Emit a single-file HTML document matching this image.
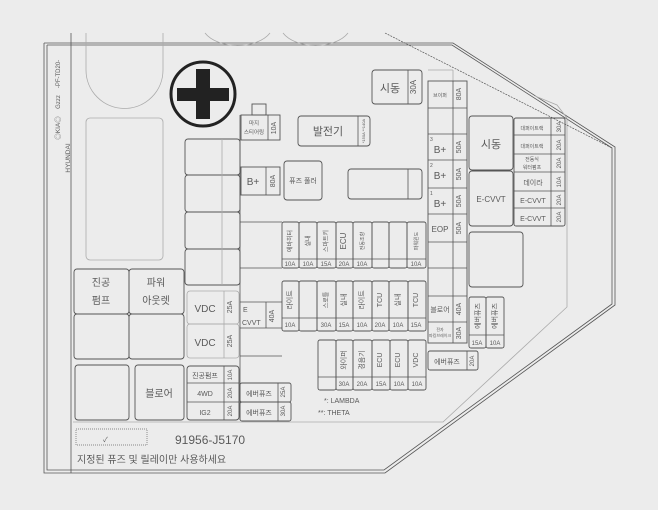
<!DOCTYPE html>
<html><head><meta charset="utf-8"><style>
html,body{margin:0;padding:0;background:#ececec;}
svg{display:block;}
text{font-family:"Liberation Sans","Noto Sans CJK KR",sans-serif;fill:#5a5a5a;}
.r{fill:none;stroke:#555;stroke-width:0.9;}
.l{fill:none;stroke:#555;stroke-width:0.8;}
.g{fill:none;stroke:#aaa;stroke-width:0.8;}
</style></head><body>
<svg width="658" height="510" viewBox="0 0 658 510" xmlns="http://www.w3.org/2000/svg">
<rect width="658" height="510" fill="#ececec"/>
<polyline class="l" points="44,43 453,43 615,147 615,305 385,473 44,473 44,43"/>
<polyline class="l" points="47,45 452,45 612,148 612,304 384,470 47,470 47,45"/>
<line class="l" x1="71" y1="33" x2="71" y2="473"/>
<polyline class="g" points="535,96 557,105 567,118 567,307 443,422 73,422"/>
<line x1="385" y1="33" x2="612" y2="148" stroke="#555" stroke-width="0.7" stroke-dasharray="2,1"/>
<path class="g" d="M86,33 V70 A38.5,38.5 0 0 0 163,70 V33"/>
<path class="g" d="M205,33 A36,22 0 0 0 270,33"/>
<path class="g" d="M283,33 A36,22 0 0 0 348,33"/>
<circle cx="203" cy="94" r="32" fill="none" stroke="#222" stroke-width="3"/>
<rect x="196" y="69" width="14" height="50" fill="#222"/>
<rect x="177" y="88" width="52" height="13" fill="#222"/>
<text transform="translate(70,158) rotate(-90)" font-size="6.5" text-anchor="middle">HYUNDAI</text>
<text transform="translate(60,128) rotate(-90)" font-size="6.5" text-anchor="middle">◎KIA◎</text>
<text transform="translate(60,102) rotate(-90)" font-size="6" text-anchor="middle">Gzzz</text>
<text transform="translate(60,74) rotate(-90)" font-size="6" text-anchor="middle">-PF-TD20-</text>
<rect class="g" x="86" y="118" width="77" height="142" rx="4"/>
<rect class="r" x="185" y="139" width="55" height="36" rx="3"/>
<rect class="r" x="185" y="175" width="55" height="37" rx="3"/>
<rect class="r" x="185" y="212" width="55" height="37" rx="3"/>
<rect class="r" x="185" y="249" width="55" height="36" rx="3"/>
<line class="g" x1="222" y1="139" x2="222" y2="285"/>
<line class="l" x1="240" y1="115" x2="240" y2="420"/>
<rect class="r" x="252" y="104" width="14" height="11"/>
<rect class="r" x="241" y="115" width="39" height="25"/>
<line class="l" x1="268" y1="115" x2="268" y2="140"/>
<text x="254" y="125" font-size="5.5" text-anchor="middle">마지</text>
<text x="254" y="134" font-size="5.5" text-anchor="middle">스티어링</text>
<text transform="translate(276,128) rotate(-90)" font-size="7" text-anchor="middle">10A</text>
<rect class="r" x="298" y="116" width="72" height="30" rx="3"/>
<line class="l" x1="358" y1="116" x2="358" y2="146"/>
<text x="328" y="135" font-size="11" text-anchor="middle">발전기</text>
<text transform="translate(365,131) rotate(-90)" font-size="4" text-anchor="middle">*150A **140A</text>
<rect class="r" x="241" y="167" width="39" height="28"/>
<line class="l" x1="266" y1="167" x2="266" y2="195"/>
<text x="253" y="185" font-size="10" text-anchor="middle">B+</text>
<text transform="translate(275,181) rotate(-90)" font-size="7" text-anchor="middle">80A</text>
<rect class="r" x="284" y="161" width="38" height="39" rx="3"/>
<text x="303" y="183" font-size="7" text-anchor="middle">퓨즈 풀러</text>
<rect class="r" x="348" y="169" width="74" height="30" rx="3"/>
<line class="l" x1="408" y1="169" x2="408" y2="199"/>
<rect class="r" x="372" y="70" width="50" height="34" rx="3"/>
<line class="l" x1="408" y1="70" x2="408" y2="104"/>
<text x="390" y="92" font-size="11" text-anchor="middle">시동</text>
<text transform="translate(416,87) rotate(-90)" font-size="8" text-anchor="middle">30A</text>
<line class="g" x1="428" y1="70" x2="453" y2="70"/><line class="g" x1="453" y1="70" x2="453" y2="81"/>
<rect class="r" x="428" y="81" width="39" height="262"/>
<line class="l" x1="453" y1="81" x2="453" y2="343"/>
<g class="l">
<line x1="428" y1="108" x2="467" y2="108"/><line x1="428" y1="134" x2="467" y2="134"/>
<line x1="428" y1="160" x2="467" y2="160"/><line x1="428" y1="188" x2="467" y2="188"/>
<line x1="428" y1="214" x2="467" y2="214"/><line x1="428" y1="242" x2="467" y2="242"/>
<line x1="428" y1="268" x2="467" y2="268"/><line x1="428" y1="296" x2="467" y2="296"/>
<line x1="428" y1="322" x2="467" y2="322"/>
</g>
<text x="440" y="97" font-size="5" text-anchor="middle">브이퍼</text>
<text transform="translate(461,94) rotate(-90)" font-size="7" text-anchor="middle">80A</text>
<text x="440" y="153" font-size="10" text-anchor="middle">B+</text><text x="430" y="141" font-size="5">3</text>
<text transform="translate(461,147) rotate(-90)" font-size="7" text-anchor="middle">50A</text>
<text x="440" y="179" font-size="10" text-anchor="middle">B+</text><text x="430" y="167" font-size="5">2</text>
<text transform="translate(461,174) rotate(-90)" font-size="7" text-anchor="middle">50A</text>
<text x="440" y="207" font-size="10" text-anchor="middle">B+</text><text x="430" y="195" font-size="5">1</text>
<text transform="translate(461,201) rotate(-90)" font-size="7" text-anchor="middle">50A</text>
<text x="440" y="232" font-size="8" text-anchor="middle">EOP</text>
<text transform="translate(461,228) rotate(-90)" font-size="7" text-anchor="middle">50A</text>
<text x="440" y="312" font-size="7" text-anchor="middle">블로어</text>
<text transform="translate(461,309) rotate(-90)" font-size="7" text-anchor="middle">40A</text>
<text x="440" y="331" font-size="4" text-anchor="middle">전자</text>
<text x="440" y="337" font-size="4" text-anchor="middle">파킹브레이크</text>
<text transform="translate(461,333) rotate(-90)" font-size="7" text-anchor="middle">30A</text>
<rect class="r" x="469" y="116" width="44" height="54" rx="3"/>
<text x="491" y="148" font-size="11" text-anchor="middle">시동</text>
<rect class="r" x="469" y="171" width="44" height="55" rx="3"/>
<text x="491" y="202" font-size="8" text-anchor="middle">E-CVVT</text>
<rect class="r" x="469" y="232" width="54" height="55" rx="3"/>
<rect class="r" x="514" y="118" width="51" height="108" rx="2"/>
<line class="l" x1="551" y1="118" x2="551" y2="226"/>
<g class="l"><line x1="514" y1="135" x2="565" y2="135"/><line x1="514" y1="154" x2="565" y2="154"/><line x1="514" y1="172" x2="565" y2="172"/><line x1="514" y1="191" x2="565" y2="191"/><line x1="514" y1="208" x2="565" y2="208"/></g>
<text x="532" y="130" font-size="5" text-anchor="middle">대퍼이트랙</text>
<text x="532" y="148" font-size="5" text-anchor="middle">대퍼이트랙</text>
<text x="532" y="161" font-size="5" text-anchor="middle">전동식</text>
<text x="532" y="169" font-size="5" text-anchor="middle">워터펌프</text>
<text x="533" y="185" font-size="7" text-anchor="middle">데이라</text>
<text x="533" y="203" font-size="7" text-anchor="middle">E-CVVT</text>
<text x="533" y="221" font-size="7" text-anchor="middle">E-CVVT</text>
<text transform="translate(561,127) rotate(-90)" font-size="6" text-anchor="middle">30A</text>
<text transform="translate(561,145) rotate(-90)" font-size="6" text-anchor="middle">20A</text>
<text transform="translate(561,163) rotate(-90)" font-size="6" text-anchor="middle">20A</text>
<text transform="translate(561,182) rotate(-90)" font-size="6" text-anchor="middle">10A</text>
<text transform="translate(561,200) rotate(-90)" font-size="6" text-anchor="middle">20A</text>
<text transform="translate(561,217) rotate(-90)" font-size="6" text-anchor="middle">20A</text>
<rect class="r" x="469" y="297" width="17" height="51" rx="2"/>
<rect class="r" x="486" y="297" width="18" height="51" rx="2"/>
<line class="l" x1="469" y1="335" x2="504" y2="335"/>
<text transform="translate(480,316) rotate(-90)" font-size="7" text-anchor="middle">에버퓨즈</text>
<text transform="translate(497,316) rotate(-90)" font-size="7" text-anchor="middle">에버퓨즈</text>
<text x="477" y="345" font-size="6" text-anchor="middle">15A</text>
<text x="495" y="345" font-size="6" text-anchor="middle">10A</text>
<rect class="r" x="428" y="351" width="50" height="19" rx="2"/>
<line class="l" x1="467" y1="351" x2="467" y2="370"/>
<text x="447" y="364" font-size="7" text-anchor="middle">에버퓨즈</text>
<text transform="translate(474,361) rotate(-90)" font-size="6" text-anchor="middle">20A</text>
<line class="l" x1="240" y1="222" x2="282" y2="222"/>
<line class="l" x1="240" y1="268" x2="282" y2="268"/>
<g class="r">
<rect x="282" y="222" width="17" height="46" rx="2"/><rect x="299" y="222" width="18" height="46" rx="2"/>
<rect x="317" y="222" width="19" height="46" rx="2"/><rect x="336" y="222" width="17" height="46" rx="2"/>
<rect x="353" y="222" width="19" height="46" rx="2"/><rect x="372" y="222" width="17" height="46" rx="2"/>
<rect x="389" y="222" width="18" height="46" rx="2"/><rect x="407" y="222" width="19" height="46" rx="2"/>
</g>
<line class="l" x1="282" y1="259" x2="426" y2="259"/>
<g font-size="6" text-anchor="middle">
<text transform="translate(292,241) rotate(-90)">에바히터</text>
<text transform="translate(310,241) rotate(-90)">실내</text>
<text transform="translate(328,241) rotate(-90)">스마트키</text>
<text transform="translate(346,241) rotate(-90)" font-size="8">ECU</text>
<text transform="translate(364,241) rotate(-90)" font-size="5">전동조향</text>
<text transform="translate(418,241) rotate(-90)" font-size="5">파워윈도</text>
<text x="290" y="266">10A</text><text x="308" y="266">10A</text><text x="326" y="266">15A</text><text x="344" y="266">20A</text><text x="362" y="266">10A</text><text x="416" y="266">10A</text>
</g>
<line class="l" x1="240" y1="302" x2="282" y2="302"/>
<line class="l" x1="240" y1="328" x2="282" y2="328"/>
<line class="l" x1="266" y1="302" x2="266" y2="328"/>
<text x="243" y="312" font-size="7">E</text><text x="242" y="325" font-size="7">CVVT</text>
<text transform="translate(274,316) rotate(-90)" font-size="7" text-anchor="middle">40A</text>
<line class="l" x1="240" y1="356" x2="282" y2="356"/>
<g class="r">
<rect x="282" y="281" width="17" height="50" rx="2"/><rect x="299" y="281" width="18" height="50" rx="2"/>
<rect x="317" y="281" width="19" height="50" rx="2"/><rect x="336" y="281" width="17" height="50" rx="2"/>
<rect x="353" y="281" width="19" height="50" rx="2"/><rect x="372" y="281" width="17" height="50" rx="2"/>
<rect x="389" y="281" width="19" height="50" rx="2"/><rect x="408" y="281" width="18" height="50" rx="2"/>
</g>
<line class="l" x1="282" y1="318" x2="426" y2="318"/>
<g font-size="7" text-anchor="middle">
<text transform="translate(292,300) rotate(-90)">라이트</text>
<text transform="translate(328,300) rotate(-90)" font-size="6">스로틀</text>
<text transform="translate(346,300) rotate(-90)">실내</text>
<text transform="translate(364,300) rotate(-90)">라이트</text>
<text transform="translate(382,300) rotate(-90)">TCU</text>
<text transform="translate(400,300) rotate(-90)">실내</text>
<text transform="translate(418,300) rotate(-90)">TCU</text>
</g>
<g font-size="6" text-anchor="middle">
<text x="290" y="327">10A</text><text x="326" y="327">30A</text><text x="344" y="327">15A</text><text x="362" y="327">10A</text><text x="380" y="327">20A</text><text x="398" y="327">10A</text><text x="416" y="327">15A</text>
</g>
<g class="r">
<rect x="318" y="340" width="18" height="50" rx="2"/><rect x="336" y="340" width="17" height="50" rx="2"/>
<rect x="353" y="340" width="19" height="50" rx="2"/><rect x="372" y="340" width="18" height="50" rx="2"/>
<rect x="390" y="340" width="18" height="50" rx="2"/><rect x="408" y="340" width="18" height="50" rx="2"/>
</g>
<line class="l" x1="318" y1="377" x2="426" y2="377"/>
<g font-size="7" text-anchor="middle">
<text transform="translate(346,360) rotate(-90)">와이퍼</text>
<text transform="translate(364,360) rotate(-90)">경음기</text>
<text transform="translate(382,360) rotate(-90)">ECU</text>
<text transform="translate(400,360) rotate(-90)">ECU</text>
<text transform="translate(418,360) rotate(-90)">VDC</text>
</g>
<g font-size="6" text-anchor="middle">
<text x="344" y="386">30A</text><text x="362" y="386">20A</text><text x="381" y="386">15A</text><text x="399" y="386">10A</text><text x="417" y="386">10A</text>
</g>
<text x="324" y="403" font-size="7">*: LAMBDA</text>
<text x="318" y="415" font-size="7">**: THETA</text>
<rect class="g" x="187" y="291" width="52" height="33" rx="3"/>
<rect class="g" x="187" y="324" width="52" height="34" rx="3"/>
<line class="g" x1="224" y1="291" x2="224" y2="358"/>
<text x="205" y="312" font-size="10" text-anchor="middle" fill="#999">VDC</text>
<text x="205" y="346" font-size="10" text-anchor="middle" fill="#999">VDC</text>
<text transform="translate(232,307) rotate(-90)" font-size="7" text-anchor="middle">25A</text>
<text transform="translate(232,341) rotate(-90)" font-size="7" text-anchor="middle">25A</text>
<rect class="r" x="187" y="366" width="52" height="54" rx="3"/>
<line class="l" x1="187" y1="383" x2="239" y2="383"/><line class="l" x1="187" y1="402" x2="239" y2="402"/>
<line class="l" x1="224" y1="366" x2="224" y2="420"/>
<text x="205" y="378" font-size="7" text-anchor="middle">진공펌프</text>
<text x="205" y="396" font-size="7" text-anchor="middle">4WD</text>
<text x="205" y="415" font-size="7" text-anchor="middle">IG2</text>
<text transform="translate(232,375) rotate(-90)" font-size="6" text-anchor="middle">10A</text>
<text transform="translate(232,393) rotate(-90)" font-size="6" text-anchor="middle">20A</text>
<text transform="translate(232,411) rotate(-90)" font-size="6" text-anchor="middle">20A</text>
<rect class="r" x="240" y="383" width="51" height="19" rx="2"/>
<rect class="r" x="240" y="402" width="51" height="19" rx="2"/>
<line class="l" x1="278" y1="383" x2="278" y2="421"/>
<text x="259" y="396" font-size="7" text-anchor="middle">에버퓨즈</text>
<text x="259" y="415" font-size="7" text-anchor="middle">에버퓨즈</text>
<text transform="translate(285,392) rotate(-90)" font-size="6" text-anchor="middle">25A</text>
<text transform="translate(285,411) rotate(-90)" font-size="6" text-anchor="middle">30A</text>
<rect class="r" x="74" y="269" width="55" height="45" rx="3"/>
<rect class="r" x="129" y="269" width="55" height="45" rx="3"/>
<rect class="r" x="74" y="314" width="55" height="45" rx="3"/>
<rect class="r" x="129" y="314" width="55" height="45" rx="3"/>
<text x="101" y="286" font-size="10" text-anchor="middle">진공</text>
<text x="101" y="304" font-size="10" text-anchor="middle">펌프</text>
<text x="156" y="286" font-size="10" text-anchor="middle">파워</text>
<text x="156" y="304" font-size="10" text-anchor="middle">아웃렛</text>
<rect class="r" x="75" y="365" width="54" height="55" rx="3"/>
<rect class="r" x="135" y="365" width="49" height="55" rx="3"/>
<text x="159" y="397" font-size="10" text-anchor="middle">블로어</text>
<rect x="76" y="429" width="71" height="16" fill="none" stroke="#666" stroke-width="0.7" stroke-dasharray="1,1"/>
<text x="103" y="442" font-size="7">✓</text>
<text x="175" y="444" font-size="12" fill="#aaa">91956-J5170</text>
<text x="77" y="463" font-size="10">지정된 퓨즈 및 릴레이만 사용하세요</text>
</svg>
</body></html>
